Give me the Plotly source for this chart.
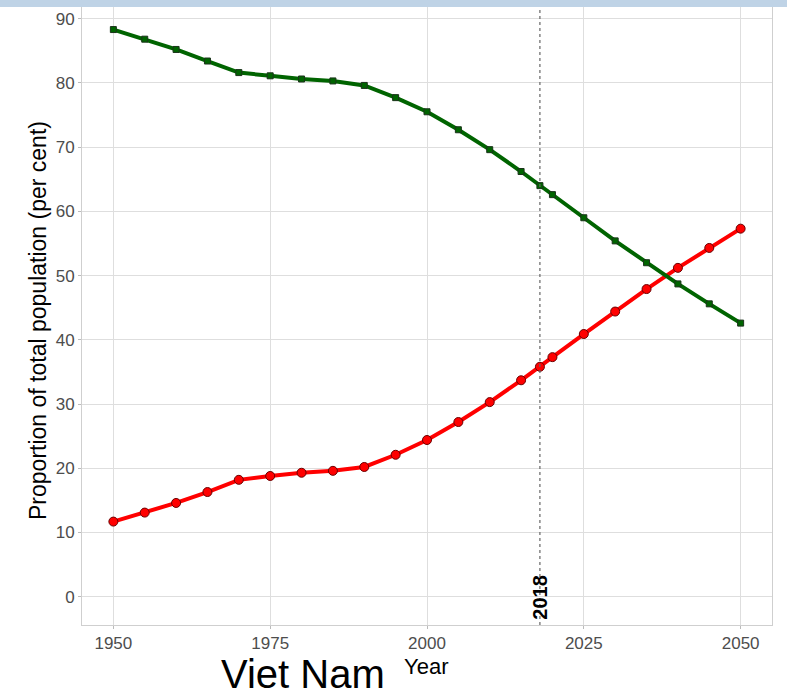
import plotly.graph_objects as go

years = [1950, 1955, 1960, 1965, 1970, 1975, 1980, 1985, 1990, 1995, 2000,
         2005, 2010, 2015, 2018, 2020, 2025, 2030, 2035, 2040, 2045, 2050]
urban = [11.7, 13.1, 14.6, 16.3, 18.2, 18.8, 19.3, 19.6, 20.2, 22.1, 24.4,
         27.2, 30.3, 33.7, 35.8, 37.3, 40.9, 44.4, 47.9, 51.2, 54.3, 57.3]
rural = [88.3, 86.8, 85.2, 83.4, 81.6, 81.1, 80.6, 80.3, 79.6, 77.7, 75.5,
         72.7, 69.6, 66.2, 64.0, 62.6, 59.0, 55.4, 52.0, 48.7, 45.6, 42.6]
x_ticks = [1950, 1975, 2000, 2025, 2050]
y_ticks = [0, 10, 20, 30, 40, 50, 60, 70, 80, 90]
marker_year = 2018
country = "Viet Nam"

FONT = "Liberation Sans, Arial, sans-serif"

fig = go.Figure()
fig.add_trace(go.Scatter(
    x=years, y=urban, mode="lines+markers",
    line=dict(color="#FF0000", width=4),
    marker=dict(symbol="circle", size=9, color="#FF0000",
                line=dict(color="#6a0000", width=1)),
    showlegend=False))
fig.add_trace(go.Scatter(
    x=years, y=rural, mode="lines+markers",
    line=dict(color="#006400", width=4),
    marker=dict(symbol="square", size=6, color="#006400",
                line=dict(color="#1a331a", width=1)),
    showlegend=False))

fig.add_shape(type="line", xref="x", yref="paper", x0=marker_year, x1=marker_year,
              y0=0, y1=1, line=dict(color="#666666", width=1.2, dash="dot"))
fig.add_shape(type="rect", xref="paper", yref="paper",
              x0=-0.2, x1=1.1, y0=(625 - 7) / 625, y1=1.02,
              fillcolor="#BFD3E6", line=dict(width=0), layer="above")

fig.add_annotation(x=marker_year, y=0, xref="x", yref="y", text=str(marker_year),
                   textangle=-90, showarrow=False,
                   font=dict(family=FONT, size=20, color="black", weight="bold"))
fig.add_annotation(x=0.499, y=-0.0656, xref="paper", yref="paper", text="Year",
                   showarrow=False, xanchor="center", yanchor="middle",
                   font=dict(family=FONT, size=22, color="black"))
fig.add_annotation(x=-0.0638, y=0.488, xref="paper", yref="paper",
                   text="Proportion of total population (per cent)",
                   textangle=-90, showarrow=False, xanchor="center", yanchor="middle",
                   font=dict(family=FONT, size=23, color="black"))
fig.add_annotation(x=0.3196, y=-0.0785, xref="paper", yref="paper", text=country,
                   showarrow=False, xanchor="center", yanchor="middle", borderpad=0,
                   font=dict(family=FONT, size=40, color="black"))

fig.update_xaxes(range=[1945, 2055], tickvals=x_ticks, ticktext=[str(v) for v in x_ticks],
                 showgrid=True, gridcolor="#DEDEDE", gridwidth=1, zeroline=False,
                 showline=True, linecolor="#CFCFCF", linewidth=1, mirror=True,
                 ticks="outside", ticklen=3, tickcolor="#BBBBBB",
                 tickfont=dict(family=FONT, size=17, color="#4D4D4D"))
fig.update_yaxes(range=[-4.4, 92.9], tickvals=y_ticks, ticktext=[str(v) for v in y_ticks],
                 showgrid=True, gridcolor="#DEDEDE", gridwidth=1, zeroline=False,
                 showline=True, linecolor="#CFCFCF", linewidth=1, mirror=True,
                 ticks="outside", ticklen=3, tickcolor="#BBBBBB",
                 tickfont=dict(family=FONT, size=17, color="#4D4D4D"))

fig.update_layout(width=787, height=698, margin=dict(l=82, r=15, t=0, b=73),
                  plot_bgcolor="white", paper_bgcolor="white", showlegend=False)

fig.write_html("out.html", config={"displayModeBar": False},
               post_script="document.body.style.margin='0';document.body.style.overflow='hidden';")
